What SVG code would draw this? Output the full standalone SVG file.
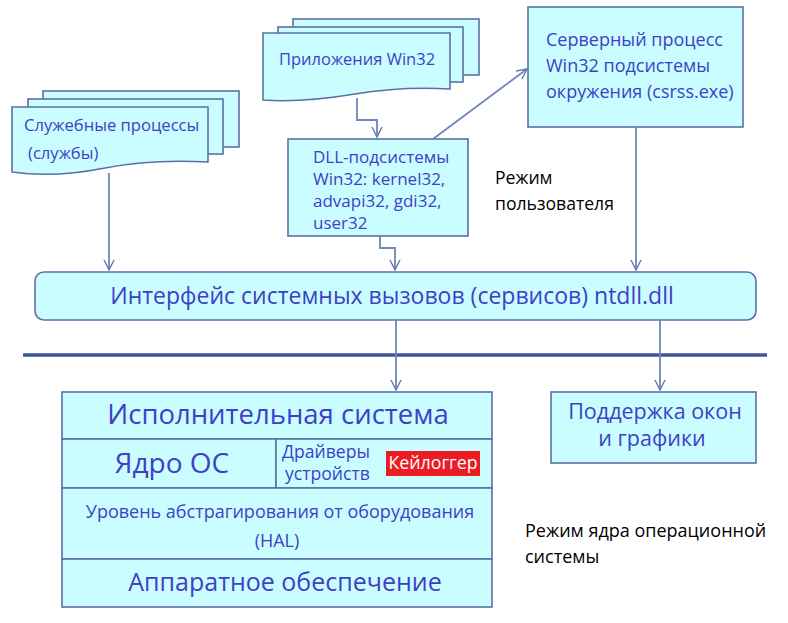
<svg xmlns="http://www.w3.org/2000/svg" width="788" height="623" viewBox="0 0 788 623">
<defs>
<marker id="arr" viewBox="0 0 12 12" refX="11" refY="6" markerWidth="12" markerHeight="12" markerUnits="userSpaceOnUse" orient="auto">
<path d="M1,1 L11,6 L1,11" fill="none" stroke="#6479AE" stroke-width="1.4"/>
</marker>
<style>
.box{fill:#C9FDFF;stroke:#5A70A6;stroke-width:1.6}
.t{font-family:"Open Sans","Noto Sans","DejaVu Sans",sans-serif;fill:#3F3FC8}
.k{font-family:"Open Sans","Noto Sans","DejaVu Sans",sans-serif;fill:#000}
.c{fill:none;stroke:#6F86B8;stroke-width:1.8}
</style>
</defs>
<rect width="788" height="623" fill="#fff"/>

<g id="services">
<rect class="box" x="43" y="91" width="196" height="56"/>
<rect class="box" x="28" y="99" width="195" height="55"/>
<path class="box" d="M12,107 H208 V162 C170,160 135,162 105,168 C75,174 40,176 12,172 Z"/>
<text class="t" x="24" y="131" font-size="16.6">Служебные процессы</text>
<text class="t" x="28" y="159" font-size="16.6">(службы)</text>
</g>

<g id="apps">
<rect class="box" x="293" y="19" width="186" height="56"/>
<rect class="box" x="278" y="27" width="185" height="55"/>
<path class="box" d="M263,33 H450 V89 C415,87 385,89 355,94 C325,99 290,102 263,100 Z"/>
<text class="t" x="279" y="65" font-size="16.5">Приложения Win32</text>
</g>

<g id="dll">
<rect class="box" x="288" y="139" width="180" height="97"/>
<text class="t" x="313" y="163" font-size="17">DLL-подсистемы</text>
<text class="t" x="313" y="185" font-size="17">Win32: kernel32,</text>
<text class="t" x="313" y="207" font-size="17">advapi32, gdi32,</text>
<text class="t" x="313" y="229" font-size="17">user32</text>
</g>

<g id="csrss">
<rect class="box" x="528" y="7" width="215" height="120"/>
<text class="t" x="546" y="46" font-size="18">Серверный процесс</text>
<text class="t" x="546" y="72" font-size="18">Win32 подсистемы</text>
<text class="t" x="546" y="98" font-size="18">окружения (csrss.exe)</text>
</g>

<g id="user-mode-label">
<text class="k" x="495" y="184" font-size="17.6">Режим</text>
<text class="k" x="495" y="210" font-size="17.6">пользователя</text>
</g>

<g id="ntdll">
<rect class="box" x="35" y="272" width="721" height="48" rx="9"/>
<text class="t" x="392" y="304" font-size="23" text-anchor="middle">Интерфейс системных вызовов (сервисов) ntdll.dll</text>
</g>

<g id="kernel">
<rect class="box" x="62" y="392" width="430" height="47"/>
<rect class="box" x="62" y="439" width="214" height="49"/>
<rect class="box" x="276" y="439" width="216" height="49"/>
<rect class="box" x="62" y="488" width="430" height="71"/>
<rect class="box" x="62" y="559" width="430" height="48"/>
<text class="t" x="278" y="424" font-size="27.5" text-anchor="middle">Исполнительная система</text>
<text class="t" x="172" y="473" font-size="28" text-anchor="middle">Ядро ОС</text>
<text class="t" x="282" y="458" font-size="17.6">Драйверы</text>
<text class="t" x="285" y="480" font-size="17.6">устройств</text>
<rect x="386" y="451" width="94" height="25" fill="#EC1C24"/>
<text x="433" y="469" font-size="17.8" text-anchor="middle" fill="#fff" font-family="Open Sans, Noto Sans, sans-serif">Кейлоггер</text>
<text class="t" x="280" y="518" font-size="18" text-anchor="middle">Уровень абстрагирования от оборудования</text>
<text class="t" x="277" y="547" font-size="18" text-anchor="middle">(HAL)</text>
<text class="t" x="285" y="591" font-size="25" text-anchor="middle">Аппаратное обеспечение</text>
</g>

<g id="windowing">
<rect class="box" x="551" y="392" width="205" height="71"/>
<text class="t" x="655" y="419" font-size="21.5" text-anchor="middle">Поддержка окон</text>
<text class="t" x="652" y="446" font-size="21.5" text-anchor="middle">и графики</text>
</g>

<g id="kernel-mode-label">
<text class="k" x="525" y="537" font-size="18">Режим ядра операционной</text>
<text class="k" x="525" y="563" font-size="18">системы</text>
</g>

<g id="connectors">
<line x1="23" y1="355" x2="767" y2="355" stroke="#3E55A0" stroke-width="3.5"/>
<path class="c" d="M109,173 V270" marker-end="url(#arr)"/>
<path class="c" d="M357,98 V120 H377 V137" marker-end="url(#arr)"/>
<path class="c" d="M380,236 V248 H395 V270" marker-end="url(#arr)"/>
<path class="c" d="M433,139 L527,69" marker-end="url(#arr)"/>
<path class="c" d="M636,127 V270" marker-end="url(#arr)"/>
<path class="c" d="M396,320 V390" marker-end="url(#arr)"/>
<path class="c" d="M660,320 V390" marker-end="url(#arr)"/>
</g>
</svg>
